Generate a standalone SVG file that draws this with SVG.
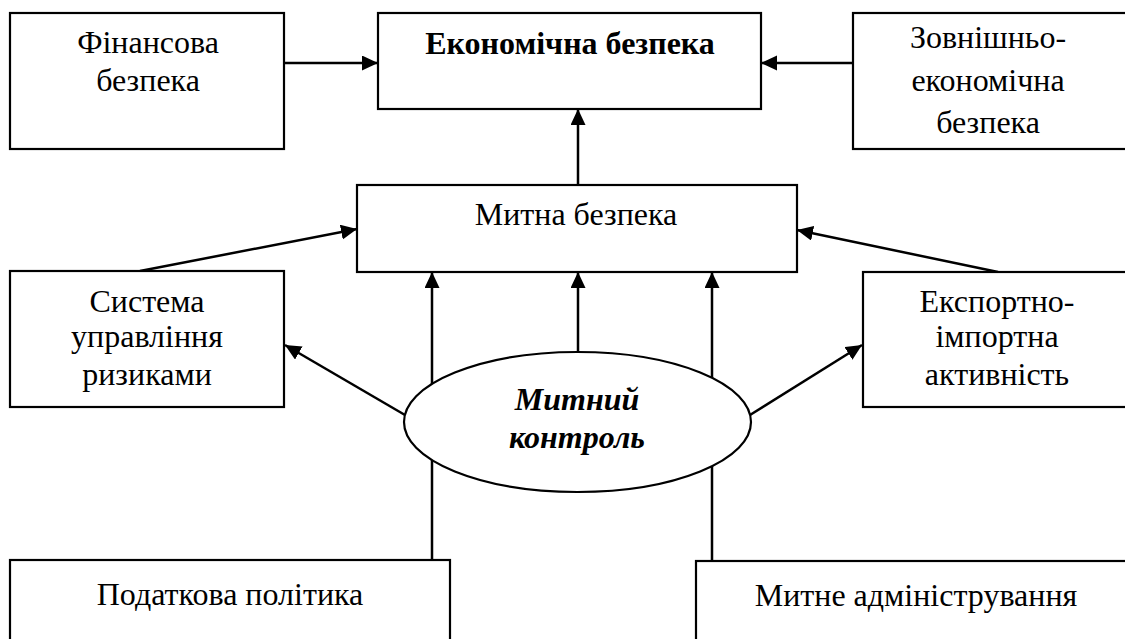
<svg xmlns="http://www.w3.org/2000/svg" width="1125" height="639" viewBox="0 0 1125 639">
<style>
.box{fill:#fff;stroke:#000;stroke-width:2.2}
.t{font-family:"Liberation Serif","Times New Roman","DejaVu Serif",serif;font-size:32px;fill:#000;text-anchor:middle}
.b{font-weight:bold}
.bi{font-weight:bold;font-style:italic}
.c{stroke:#000;stroke-width:2.5;fill:none;marker-end:url(#ah)}
</style>
<defs>
<marker id="ah" markerUnits="userSpaceOnUse" markerWidth="18" markerHeight="16" refX="16" refY="7.5" orient="auto">
<path d="M0,0 L16,7.5 L0,15 z" fill="#000"/>
</marker>
</defs>
<rect width="1125" height="639" fill="#fff"/>
<g id="connectors">
<line class="c" x1="284" y1="63" x2="378" y2="63"/>
<line class="c" x1="853" y1="63" x2="761" y2="63"/>
<line class="c" x1="578" y1="185" x2="578" y2="109"/>
<line class="c" x1="140" y1="271" x2="357" y2="229"/>
<line class="c" x1="998" y1="272" x2="797" y2="230"/>
<line class="c" x1="432" y1="560" x2="432" y2="272"/>
<line class="c" x1="578" y1="352" x2="578" y2="272"/>
<line class="c" x1="712" y1="561" x2="712" y2="272"/>
<line class="c" x1="405" y1="415" x2="285" y2="345"/>
<line class="c" x1="750" y1="415" x2="862" y2="345"/>
</g>
<g id="finansova">
<rect class="box" x="10" y="13" width="274" height="136"/>
<text class="t" x="148" y="53">Фінансова</text>
<text class="t" x="148" y="91">безпека</text>
</g>
<g id="ekonomichna">
<rect class="box" x="378" y="13" width="383" height="96"/>
<text class="t b" x="570" y="54">Економічна безпека</text>
</g>
<g id="zovnishnio">
<rect class="box" x="853" y="13" width="290" height="136"/>
<text class="t" x="988" y="48">Зовнішньо-</text>
<text class="t" x="988" y="91">економічна</text>
<text class="t" x="988" y="133">безпека</text>
</g>
<g id="mytna">
<rect class="box" x="357" y="185" width="440" height="87"/>
<text class="t" x="576" y="225">Митна безпека</text>
</g>
<g id="systema">
<rect class="box" x="10" y="271" width="274" height="136"/>
<text class="t" x="147" y="312">Система</text>
<text class="t" x="147" y="347">управління</text>
<text class="t" x="147" y="385">ризиками</text>
</g>
<g id="eksport">
<rect class="box" x="863" y="272" width="280" height="135"/>
<text class="t" x="997" y="312">Експортно-</text>
<text class="t" x="997" y="347">імпортна</text>
<text class="t" x="997" y="385">активність</text>
</g>
<g id="mytnyi-kontrol">
<ellipse class="box" cx="577.5" cy="422" rx="173.5" ry="70"/>
<text class="t bi" x="577" y="410">Митний</text>
<text class="t bi" x="577" y="448">контроль</text>
</g>
<g id="podatkova">
<rect class="box" x="10" y="560" width="440" height="100"/>
<text class="t" x="230" y="605">Податкова політика</text>
</g>
<g id="admin">
<rect class="box" x="696" y="561" width="450" height="100"/>
<text class="t" x="916" y="606">Митне адміністрування</text>
</g>
</svg>
